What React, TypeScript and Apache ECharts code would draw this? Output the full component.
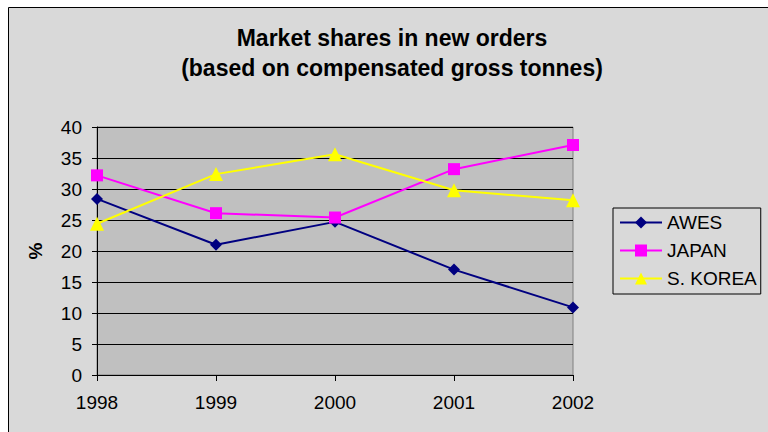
import React, { useEffect, useRef } from "react";
import * as echarts from "echarts";

const years = ["1998", "1999", "2000", "2001", "2002"];
const awes = [28.4, 21.0, 24.7, 17.0, 10.9];
const japan = [32.2, 26.1, 25.4, 33.2, 37.1];
const korea = [24.4, 32.4, 35.6, 29.8, 28.2];

const FONT = "'Liberation Sans', Arial, sans-serif";

export default function App() {
  const ref = useRef<HTMLDivElement>(null);
  useEffect(() => {
    document.body.style.margin = "0";
    const chart = echarts.init(ref.current!, null, { renderer: "svg" });
    chart.setOption({
      animation: false,
      backgroundColor: "#ffffff",
      textStyle: { fontFamily: FONT },
      graphic: [
        {
          type: "rect",
          z: -10,
          silent: true,
          shape: { x: 8.5, y: 7.5, width: 800, height: 450 },
          style: { fill: "#d9d9d9", stroke: "#000000", lineWidth: 1 },
        },
      ],
      title: {
        text: "Market shares in new orders\n(based on compensated gross tonnes)",
        left: 392,
        top: 23,
        textAlign: "center",
        padding: 0,
        textStyle: {
          fontFamily: FONT,
          fontSize: 23,
          fontWeight: "bold",
          color: "#000",
          lineHeight: 30,
        },
      },
      grid: {
        left: 97,
        right: 195,
        top: 127,
        bottom: 57,
        show: true,
        backgroundColor: "#c0c0c0",
        borderColor: "#808080",
        borderWidth: 1,
      },
      legend: {
        orient: "vertical",
        left: 613,
        top: 208,
        backgroundColor: "#d9d9d9",
        borderColor: "#000",
        borderWidth: 1,
        padding: [5, 4, 6, 6],
        itemWidth: 42,
        itemHeight: 15,
        itemGap: 9,
        textStyle: { fontFamily: FONT, fontSize: 19, color: "#000" },
        data: ["AWES", "JAPAN", "S. KOREA"],
      },
      xAxis: {
        type: "category",
        data: years,
        boundaryGap: false,
        axisLine: { lineStyle: { color: "#000", width: 1 } },
        axisTick: { show: true, length: 6, lineStyle: { color: "#000" } },
        axisLabel: { fontFamily: FONT, fontSize: 19, color: "#000", margin: 18 },
        splitLine: { show: false },
      },
      yAxis: {
        type: "value",
        min: 0,
        max: 40,
        interval: 5,
        name: "%",
        nameLocation: "middle",
        nameGap: 52,
        nameRotate: 90,
        nameTextStyle: { fontFamily: FONT, fontSize: 19, fontWeight: "bold", color: "#000" },
        axisLine: { show: true, lineStyle: { color: "#000", width: 1 } },
        axisTick: { show: true, length: 5, lineStyle: { color: "#000" } },
        axisLabel: { fontFamily: FONT, fontSize: 19, color: "#000", margin: 15 },
        splitLine: { show: true, lineStyle: { color: "#000", width: 1 } },
      },
      series: [
        {
          name: "AWES",
          type: "line",
          data: awes,
          symbol: "diamond",
          symbolSize: 12,
          lineStyle: { color: "#000080", width: 2 },
          itemStyle: { color: "#000080" },
        },
        {
          name: "JAPAN",
          type: "line",
          data: japan,
          symbol: "rect",
          symbolSize: 12,
          lineStyle: { color: "#ff00ff", width: 2 },
          itemStyle: { color: "#ff00ff" },
        },
        {
          name: "S. KOREA",
          type: "line",
          data: korea,
          symbol: "triangle",
          symbolSize: 14,
          lineStyle: { color: "#ffff00", width: 2 },
          itemStyle: { color: "#ffff00" },
        },
      ],
    });
    return () => chart.dispose();
  }, []);
  return (
    <div
      ref={ref}
      style={{ position: "fixed", left: 0, top: 0, width: 768, height: 432 }}
    />
  );
}
